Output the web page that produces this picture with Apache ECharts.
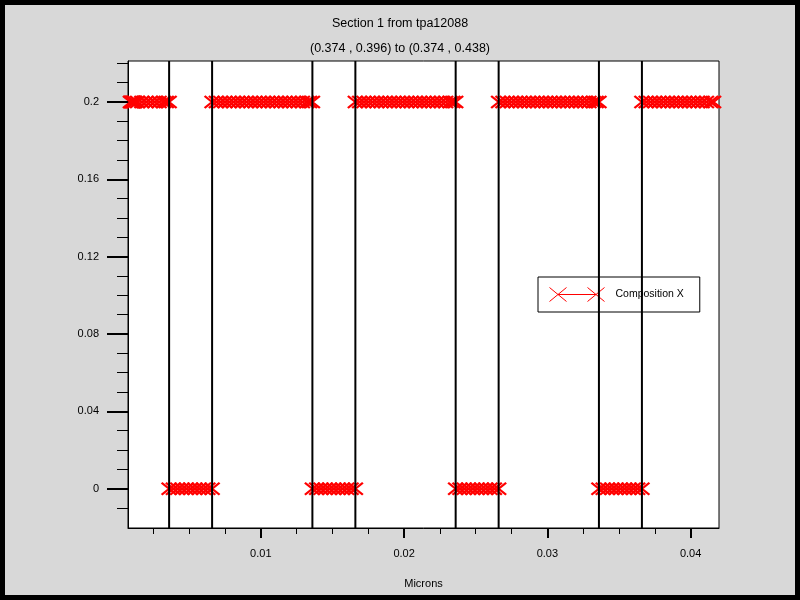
<!DOCTYPE html>
<html><head><meta charset="utf-8">
<script src="https://cdn.jsdelivr.net/npm/echarts@6/dist/echarts.min.js"></script>
<style>html,body{margin:0;padding:0;background:#d8d8d8}#c{width:800px;height:600px}</style>
</head><body><div id="c"></div>
<script>
const titleText = 'Section 1 from tpa12088';
const subtitleText = '(0.374 , 0.396) to (0.374 , 0.438)';
const seriesName = 'Composition X';
const xAxisName = 'Microns';

const xMajorTicks = [0.01, 0.02, 0.03, 0.04];
const xMinorTicks = [0.0025, 0.005, 0.0075, 0.0125, 0.015, 0.0175, 0.0225, 0.025, 0.0275, 0.0325, 0.035, 0.0375];
const yMajorTicks = [0, 0.04, 0.08, 0.12, 0.16, 0.2];
const yMinorTicks = [-0.01, 0.01, 0.02, 0.03, 0.05, 0.06, 0.07, 0.09, 0.1, 0.11, 0.13, 0.14, 0.15, 0.17, 0.18, 0.19, 0.21, 0.22];

const interfaces = [0.0036, 0.0066, 0.0136, 0.0166, 0.0236, 0.0266, 0.0336, 0.0366];

const regionLevels = [0.2, 0, 0.2, 0, 0.2, 0, 0.2, 0, 0.2];
const region1X = [0.0009, 0.00095, 0.001, 0.00105, 0.0011, 0.00115, 0.0012, 0.0014, 0.0017, 0.002, 0.0023, 0.0026, 0.0029, 0.0032, 0.0034, 0.0036];
const region2X = [0.0036, 0.0039, 0.0042, 0.0045, 0.0048, 0.0051, 0.0054, 0.0057, 0.006, 0.0063, 0.0066];
const region3X = [0.0066, 0.0069, 0.0072, 0.0075, 0.0078, 0.0081, 0.0084, 0.0087, 0.009, 0.0093, 0.0096, 0.0099, 0.0102, 0.0105, 0.0108, 0.0111, 0.0114, 0.0117, 0.012, 0.0123, 0.0126, 0.0129, 0.0132, 0.0134, 0.0136];
const region4X = [0.0136, 0.0139, 0.0142, 0.0145, 0.0148, 0.0151, 0.0154, 0.0157, 0.016, 0.0163, 0.0166];
const region5X = [0.0166, 0.0169, 0.0172, 0.0175, 0.0178, 0.0181, 0.0184, 0.0187, 0.019, 0.0193, 0.0196, 0.0199, 0.0202, 0.0205, 0.0208, 0.0211, 0.0214, 0.0217, 0.022, 0.0223, 0.0226, 0.0229, 0.0232, 0.0234, 0.0236];
const region6X = [0.0236, 0.0239, 0.0242, 0.0245, 0.0248, 0.0251, 0.0254, 0.0257, 0.026, 0.0263, 0.0266];
const region7X = [0.0266, 0.0269, 0.0272, 0.0275, 0.0278, 0.0281, 0.0284, 0.0287, 0.029, 0.0293, 0.0296, 0.0299, 0.0302, 0.0305, 0.0308, 0.0311, 0.0314, 0.0317, 0.032, 0.0323, 0.0326, 0.0329, 0.0332, 0.0334, 0.0336];
const region8X = [0.0336, 0.0339, 0.0342, 0.0345, 0.0348, 0.0351, 0.0354, 0.0357, 0.036, 0.0363, 0.0366];
const region9X = [0.0366, 0.0369, 0.0372, 0.0375, 0.0378, 0.0381, 0.0384, 0.0387, 0.039, 0.0393, 0.0396, 0.0399, 0.0402, 0.0405, 0.0408, 0.0411, 0.0414, 0.0416];
const regionXs = [region1X, region2X, region3X, region4X, region5X, region6X, region7X, region8X, region9X];

const FONT = '"Liberation Sans", Arial, sans-serif';
const RED = '#ff0000';
const xMin = 0.00073, xMax = 0.04198, yMin = -0.0203, yMax = 0.2212;

const chart = echarts.init(document.getElementById('c'), null, {renderer: 'canvas'});

const dataSeries = regionXs.map((xs, i) => ({
  name: seriesName,
  type: 'line',
  z: 2,
  data: xs.map(x => [x, regionLevels[i]]),
  symbol: 'path://M0,0L15,12M0,12L15,0',
  symbolSize: [15, 12],
  showAllSymbol: true,
  itemStyle: {color: RED, borderColor: RED, borderWidth: 2},
  lineStyle: {color: RED, width: 1},
  emphasis: {disabled: true},
  silent: true,
  animation: false
}));

const interfaceSeries = interfaces.map(v => ({
  name: 'interface',
  type: 'line',
  z: 5,
  data: [[v, yMin], [v, yMax]],
  symbol: 'none',
  lineStyle: {color: '#000', width: 2},
  emphasis: {disabled: true},
  silent: true,
  animation: false
}));

chart.setOption({
  backgroundColor: '#d8d8d8',
  animation: false,
  textStyle: {fontFamily: FONT},
  title: [
    {text: titleText, left: 'center', top: 12, textStyle: {fontFamily: FONT, fontSize: 12.5, fontWeight: 'normal', color: '#000'}},
    {text: subtitleText, left: 'center', top: 37, textStyle: {fontFamily: FONT, fontSize: 12.5, fontWeight: 'normal', color: '#000'}}
  ],
  legend: {
    data: [seriesName],
    left: 538, top: 277,
    orient: 'vertical',
    backgroundColor: '#fff',
    borderColor: '#000',
    borderWidth: 1,
    padding: [10, 16, 10, 11],
    itemWidth: 55, itemHeight: 14,
    icon: 'path://M0,0L17,14M0,14L17,0M8.5,7L46.5,7M38,0L55,14M38,14L55,0',
    itemStyle: {color: RED, borderColor: RED, borderWidth: 1},
    textStyle: {fontFamily: FONT, fontSize: 10.5, color: '#000', padding: [0, 0, 0, 6]},
    selectedMode: false
  },
  grid: {
    left: 128, right: 81, top: 61, bottom: 72,
    show: true, backgroundColor: '#fff', borderColor: '#000', borderWidth: 1
  },
  xAxis: [
    {
      type: 'value', min: xMin, max: xMax, position: 'bottom',
      name: xAxisName, nameLocation: 'middle', nameGap: 50,
      nameTextStyle: {fontFamily: FONT, fontSize: 11, color: '#000'},
      axisLine: {show: true, onZero: false, lineStyle: {color: '#000', width: 1}},
      axisTick: {show: true, customValues: xMajorTicks, length: 10, lineStyle: {color: '#000', width: 2}},
      axisLabel: {show: true, customValues: xMajorTicks, margin: 20, fontFamily: FONT, fontSize: 11, color: '#000'},
      splitLine: {show: false},
      minorSplitLine: {show: false}
    },
    {
      type: 'value', min: xMin, max: xMax, position: 'bottom',
      axisLine: {show: false, onZero: false},
      axisTick: {show: true, customValues: xMinorTicks, length: 6, lineStyle: {color: '#000', width: 1}},
      axisLabel: {show: false},
      splitLine: {show: false}
    }
  ],
  yAxis: [
    {
      type: 'value', min: yMin, max: yMax, position: 'left',
      axisLine: {show: true, onZero: false, lineStyle: {color: '#000', width: 1}},
      axisTick: {show: true, customValues: yMajorTicks, length: 21, lineStyle: {color: '#000', width: 2}},
      axisLabel: {show: true, customValues: yMajorTicks, margin: 29, fontFamily: FONT, fontSize: 11, color: '#000'},
      splitLine: {show: false}
    },
    {
      type: 'value', min: yMin, max: yMax, position: 'left',
      axisLine: {show: false, onZero: false},
      axisTick: {show: true, customValues: yMinorTicks, length: 11, lineStyle: {color: '#000', width: 1}},
      axisLabel: {show: false},
      splitLine: {show: false}
    }
  ],
  graphic: [{
    type: 'rect', silent: true, z: 100,
    shape: {x: 2.5, y: 2.5, width: 795, height: 595},
    style: {fill: 'none', stroke: '#000', lineWidth: 5}
  }],
  series: dataSeries.concat(interfaceSeries)
});
</script>
</body></html>
